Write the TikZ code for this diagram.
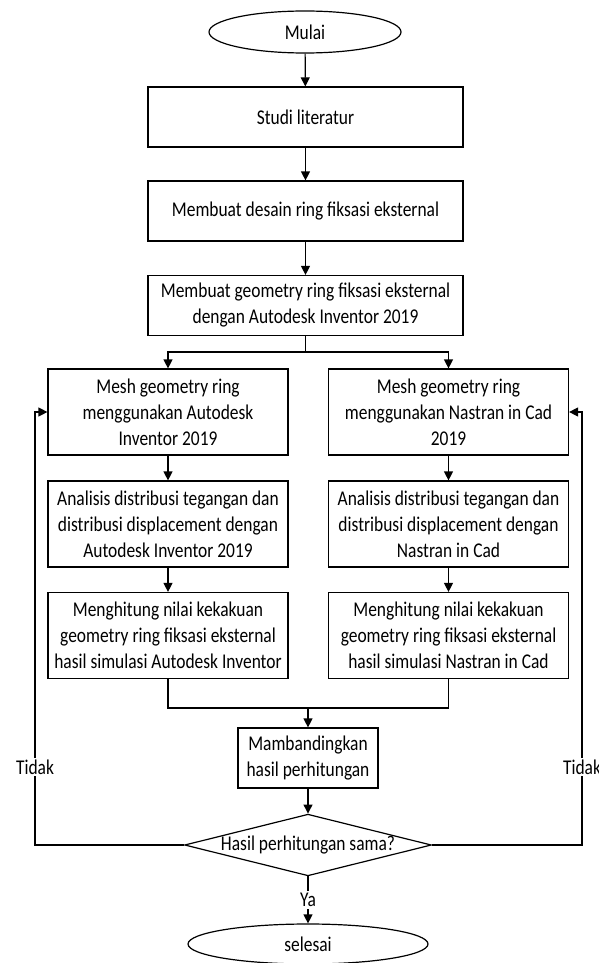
\documentclass[tikz,border=0pt]{standalone}
\usepackage{fontspec}
\setmainfont{Carlito}[FakeStretch=0.83]
\usetikzlibrary{shapes.geometric,arrows.meta}
\begin{document}
\begin{tikzpicture}[x=0.5pt,y=-0.5pt,
  every node/.style={font=\fontsize{10.5pt}{13pt}\selectfont},
  box/.style={draw,line width=0.6pt,rectangle,align=center,inner sep=0pt},
  bigbox/.style={box,minimum width=157.5pt,minimum height=30pt},
  sidebox/.style={box,minimum width=120pt,minimum height=43pt},
  term/.style={draw,line width=0.6pt,ellipse,inner sep=0pt},
  dec/.style={draw,line width=0.6pt,diamond,aspect=4,inner sep=0pt,minimum width=119pt,minimum height=30pt},
  conn/.style={line width=0.6pt},
  arr/.style={conn,-{Triangle[length=4.5pt,width=4.5pt]}},
  lbl/.style={fill=white,inner sep=1pt}]
\useasboundingbox (0,0) rectangle (599,963);
\node[term,minimum width=96pt,minimum height=21pt] (mulai) at (305,32) {Mulai};
\node[bigbox] (studi) at (305.5,117) {Studi literatur};
\node[bigbox] (desain) at (305.5,211) {Membuat desain ring fiksasi eksternal};
\node[bigbox] (geom) at (305.5,305.5) {Membuat geometry ring fiksasi eksternal\\dengan Autodesk Inventor 2019};
\node[sidebox] (l1) at (168,412) {Mesh geometry ring\\menggunakan Autodesk\\Inventor 2019};
\node[sidebox] (r1) at (448.5,412) {Mesh geometry ring\\menggunakan Nastran in Cad\\2019};
\node[sidebox] (l2) at (168,524) {Analisis distribusi tegangan dan\\distribusi displacement dengan\\Autodesk Inventor 2019};
\node[sidebox] (r2) at (448.5,524) {Analisis distribusi tegangan dan\\distribusi displacement dengan\\Nastran in Cad};
\node[sidebox] (l3) at (168,635.5) {Menghitung nilai kekakuan\\geometry ring fiksasi eksternal\\hasil simulasi Autodesk Inventor};
\node[sidebox] (r3) at (448.5,635.5) {Menghitung nilai kekakuan\\geometry ring fiksasi eksternal\\hasil simulasi Nastran in Cad};
\node[box,minimum width=70pt,minimum height=30pt] (mamb) at (308,758) {Mambandingkan\\hasil perhitungan};
\node[dec] (dia) at (308,845) {Hasil perhitungan sama?};
\node[term,minimum width=120pt,minimum height=20pt] (selesai) at (308,944) {selesai};
\coordinate (split) at (305.5,352);
\coordinate (merge) at (308,708);
\coordinate (lx) at (35,0);
\coordinate (rx) at (582,0);
\draw[arr] (mulai) -- (studi);
\draw[arr] (studi) -- (desain);
\draw[arr] (desain) -- (geom);
\draw[conn] (geom.south) -- (split);
\draw[arr] (split) -| (l1.north);
\draw[arr] (split) -| (r1.north);
\draw[arr] (l1) -- (l2);
\draw[arr] (l2) -- (l3);
\draw[arr] (r1) -- (r2);
\draw[arr] (r2) -- (r3);
\draw[conn] (l3.south) |- (merge) -| (r3.south);
\draw[arr] (merge) -- (mamb.north);
\draw[arr] (mamb) -- (dia);
\draw[arr] (dia.south) -- node[lbl,pos=0.5] (ya) {Ya} (selesai.north);
\draw[arr] (dia.west) -- (lx |- dia.west) -- node[lbl,pos=0.18] (tl) {Tidak} (lx |- l1.west) -- (l1.west);
\draw[arr] (dia.east) -- (rx |- dia.east) -- node[lbl,pos=0.18] (tr) {Tidak} (rx |- r1.east) -- (r1.east);
\end{tikzpicture}
\end{document}
